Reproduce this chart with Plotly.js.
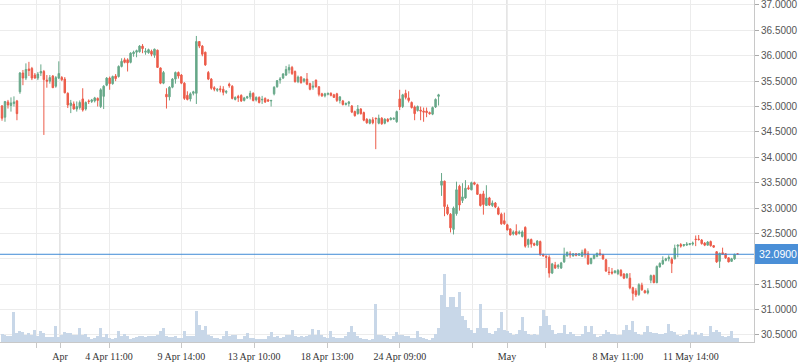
<!DOCTYPE html>
<html>
<head>
<meta charset="utf-8">
<script src="https://cdn.plot.ly/plotly-3.0.1.min.js"></script>
<style>html,body{margin:0;padding:0;background:#fff}#chart{width:798px;height:363px}</style>
</head>
<body>
<div id="chart"></div>
<script>
const open = [
35.01,34.79,35.09,35.02,35.06,35.11,35.29,35.66,35.56,35.74,
35.75,35.62,35.56,35.66,35.69,35.52,35.50,35.60,35.40,35.56,
35.57,35.54,35.26,35.02,35.05,34.95,34.98,35.15,34.95,35.11,
35.10,35.11,35.16,35.00,35.20,35.42,35.56,35.45,35.60,35.59,
35.79,35.92,35.92,35.87,36.04,36.07,36.08,36.19,36.07,36.06,
36.09,36.01,36.11,35.76,35.46,35.24,35.19,35.38,35.54,35.67,
35.62,35.46,35.22,35.15,35.26,35.26,36.28,36.19,36.07,35.67,
35.54,35.37,35.32,35.35,35.34,35.28,35.44,35.40,35.14,35.20,
35.22,35.12,35.17,35.19,35.26,35.13,35.18,35.13,35.16,35.13,
35.11,35.25,35.39,35.52,35.56,35.62,35.72,35.77,35.69,35.49,
35.58,35.50,35.54,35.45,35.38,35.52,35.39,35.25,35.21,35.24,
35.26,35.23,35.25,35.12,35.11,35.04,35.06,35.01,34.90,34.86,
34.95,34.88,34.75,34.67,34.74,34.77,34.67,34.77,34.67,34.75,
34.74,34.75,34.70,35.15,35.00,35.26,35.17,35.08,34.99,34.92,
34.93,34.91,34.91,34.88,34.85,34.99,35.20,
33.45,33.53,33.02,32.88,32.58,32.89,33.43,33.15,33.20,33.40,
33.36,33.50,33.46,33.27,33.28,33.05,33.20,33.05,33.10,33.00,
32.88,32.75,32.67,32.59,32.49,32.54,32.50,32.44,32.62,32.28,
32.38,32.30,32.27,32.34,32.09,32.05,32.03,31.72,31.88,31.84,
31.82,31.94,32.06,32.10,32.06,32.10,32.07,32.05,32.18,32.10,
31.91,32.01,32.05,32.11,32.08,31.98,31.74,31.74,31.73,31.71,
31.77,31.70,31.63,31.62,31.43,31.37,31.30,31.48,31.37,31.33,
31.58,31.67,31.53,31.84,31.90,31.97,32.00,31.99,32.00,32.25,
32.28,32.26,32.27,32.28,32.29,32.39,32.39,32.37,32.31,32.27,
32.34,32.26,32.14,31.95,32.12,32.10,32.02,31.95,32.00,32.10];

const high = [
35.03,35.10,35.13,35.18,35.20,35.13,35.68,35.72,35.85,35.88,
35.78,35.66,35.68,35.83,35.72,35.62,35.62,35.62,35.60,35.89,
35.60,35.58,35.28,35.13,35.10,35.10,35.12,35.36,35.10,35.14,
35.15,35.19,35.18,35.36,35.42,35.58,35.59,35.61,35.64,35.81,
35.95,35.96,35.95,36.07,36.10,36.12,36.21,36.23,36.15,36.14,
36.12,36.14,36.12,35.77,35.70,35.36,35.40,35.56,35.69,35.69,
35.64,35.48,35.30,35.28,35.31,36.39,36.29,36.21,36.08,35.70,
35.56,35.40,35.36,35.41,35.40,35.32,35.47,35.42,35.20,35.23,
35.24,35.19,35.21,35.31,35.28,35.20,35.20,35.21,35.18,35.15,
35.13,35.40,35.52,35.58,35.66,35.80,35.83,35.80,35.71,35.61,
35.60,35.56,35.66,35.47,35.50,35.53,35.40,35.27,35.27,35.27,
35.28,35.25,35.27,35.20,35.13,35.08,35.11,35.03,34.92,35.03,
34.97,34.90,34.77,34.76,34.79,34.78,34.84,34.79,34.77,34.77,
34.79,34.78,34.92,35.33,35.25,35.33,35.30,35.10,35.02,35.02,
35.00,34.98,34.98,34.90,35.00,35.16,35.25,
33.69,33.54,33.07,32.90,33.03,33.52,33.46,33.49,33.55,33.45,
33.52,33.52,33.48,33.28,33.34,33.45,33.22,33.15,33.12,33.03,
32.91,32.91,32.69,32.60,32.56,32.68,32.56,32.56,32.64,32.40,
32.40,32.32,32.37,32.36,32.10,32.07,32.07,31.92,31.94,31.90,
31.94,32.22,32.14,32.15,32.11,32.11,32.11,32.18,32.21,32.15,
32.02,32.08,32.12,32.19,32.10,32.00,31.84,31.82,31.78,31.80,
31.80,31.72,31.72,31.72,31.45,31.42,31.52,31.53,31.39,31.42,
31.69,31.69,31.87,31.93,32.05,32.02,32.07,32.03,32.28,32.28,
32.31,32.29,32.33,32.31,32.34,32.46,32.47,32.39,32.33,32.35,
32.36,32.27,32.15,32.12,32.22,32.11,32.03,32.02,32.10,32.11];

const low = [
34.72,34.70,34.96,34.90,35.00,34.73,35.25,35.42,35.52,35.60,
35.52,35.55,35.52,35.60,34.44,35.37,35.45,35.37,35.37,35.54,
35.50,35.26,34.97,34.87,34.94,34.90,34.94,34.90,34.92,35.05,
35.07,35.08,35.00,34.97,34.95,35.40,35.33,35.43,35.50,35.57,
35.77,35.85,35.69,35.85,35.98,35.97,36.06,36.05,36.02,36.04,
35.99,35.96,35.76,35.44,35.44,34.96,35.12,35.36,35.45,35.55,
35.44,35.13,35.12,35.10,35.22,35.05,36.15,35.99,35.80,35.52,
35.33,35.30,35.29,35.28,35.22,35.25,35.37,35.14,35.12,35.09,
35.09,35.10,35.15,35.14,35.10,35.10,35.06,35.05,35.07,35.09,
35.00,35.22,35.37,35.45,35.54,35.60,35.65,35.62,35.47,35.46,
35.45,35.47,35.42,35.32,35.33,35.37,35.20,35.19,35.18,35.22,
35.20,35.17,35.09,35.06,35.02,35.02,35.00,34.87,34.80,34.84,
34.84,34.71,34.66,34.65,34.65,34.16,34.65,34.64,34.65,34.69,
34.73,34.74,34.68,34.93,34.97,35.14,35.08,34.96,34.73,34.90,
34.73,34.70,34.79,34.84,34.83,34.97,35.02,
33.24,32.84,32.86,32.52,32.48,32.85,32.95,33.10,33.18,33.36,
33.35,33.45,33.26,33.03,32.87,33.04,33.04,33.02,33.00,32.86,
32.67,32.67,32.56,32.46,32.46,32.46,32.48,32.42,32.22,32.22,
32.22,32.25,32.25,32.06,32.04,31.82,31.63,31.70,31.80,31.80,
31.80,31.92,32.04,32.02,32.04,32.05,32.06,32.04,32.02,31.88,
31.89,31.99,32.03,32.06,31.98,31.74,31.68,31.69,31.71,31.68,
31.65,31.60,31.61,31.40,31.18,31.25,31.27,31.37,31.32,31.30,
31.52,31.52,31.52,31.83,31.88,31.95,31.95,31.72,31.99,32.03,
32.22,32.24,32.26,32.27,32.26,32.25,32.36,32.28,32.25,32.26,
32.24,32.22,31.92,31.82,32.08,32.00,31.93,31.94,31.98,32.08];

const close = [
34.77,35.10,35.03,35.07,35.09,34.86,35.66,35.56,35.73,35.71,
35.56,35.56,35.64,35.69,35.53,35.50,35.57,35.37,35.57,35.65,
35.53,35.27,35.03,35.07,34.95,35.00,35.08,34.93,35.08,35.10,
35.13,35.17,35.12,35.33,35.40,35.56,35.45,35.59,35.55,35.79,
35.89,35.87,35.86,36.05,36.07,36.10,36.19,36.14,36.09,36.12,
36.03,36.13,35.77,35.46,35.67,35.19,35.38,35.54,35.67,35.60,
35.46,35.16,35.14,35.25,35.29,36.28,36.19,36.03,35.82,35.54,
35.36,35.34,35.34,35.33,35.28,35.30,35.41,35.16,35.18,35.17,
35.11,35.17,35.19,35.26,35.12,35.18,35.08,35.14,35.09,35.11,
35.12,35.38,35.51,35.54,35.64,35.73,35.77,35.65,35.49,35.58,
35.47,35.54,35.44,35.34,35.40,35.39,35.24,35.21,35.25,35.26,
35.22,35.18,35.12,35.19,35.04,35.06,35.09,34.89,34.82,34.95,
34.86,34.73,34.68,34.74,34.68,34.76,34.77,34.66,34.75,34.71,
34.77,34.77,34.90,34.99,35.23,35.18,35.12,34.98,34.86,35.00,
34.91,34.89,34.88,34.86,34.98,35.14,35.23,
33.53,33.03,32.89,32.61,33.00,33.36,33.06,33.22,33.39,33.38,
33.50,33.47,33.27,33.05,33.07,33.20,33.06,33.10,33.02,32.88,
32.69,32.69,32.57,32.47,32.53,32.48,32.53,32.53,32.25,32.38,
32.29,32.27,32.35,32.08,32.06,32.03,31.72,31.90,31.82,31.87,
31.92,32.07,32.13,32.08,32.10,32.07,32.10,32.13,32.08,31.90,
32.01,32.07,32.11,32.08,32.00,31.76,31.73,31.72,31.76,31.77,
31.67,31.62,31.70,31.43,31.32,31.29,31.49,31.39,31.33,31.37,
31.67,31.53,31.85,31.91,31.97,32.00,32.03,31.91,32.21,32.27,
32.25,32.28,32.29,32.30,32.31,32.38,32.38,32.30,32.27,32.33,
32.26,32.23,31.94,32.11,32.09,32.02,31.94,32.00,32.09,32.09];

const volume = [
83,73,63,63,297,90,107,100,73,90,
67,123,63,107,90,50,50,50,157,50,
67,100,90,90,73,73,140,73,83,50,
30,40,57,140,50,83,40,33,40,113,
57,83,63,30,40,47,63,63,50,57,
57,57,73,107,140,57,50,47,57,40,
40,107,57,57,57,313,173,123,163,73,
57,40,40,30,63,107,57,73,73,33,
33,63,90,40,40,30,30,30,30,57,
103,50,57,40,47,73,73,123,57,50,
57,50,63,73,133,67,123,73,50,40,
107,47,40,40,40,57,97,163,100,57,
40,33,33,23,33,383,67,67,57,40,
33,57,100,73,73,57,57,40,40,107,
50,40,30,23,40,83,140,473,683,347,
450,450,347,497,257,223,140,117,90,140,
383,140,140,90,83,107,140,297,117,107,
90,73,83,117,247,107,83,73,83,73,
163,323,257,173,123,83,90,90,173,83,
97,83,57,57,83,163,97,157,83,50,
57,83,117,97,83,83,73,73,123,173,
123,207,97,83,73,97,163,97,90,90,
83,83,90,183,107,97,73,63,73,83,
117,73,97,73,90,63,63,157,97,123,
97,57,50,57,107,40,40];

const tickIdx    = [11.4, 19.4, 35.8, 60.0, 84.3, 108.7, 133.1, 157.5, 168.9, 181.8, 206.0, 230.4];
const tickLabels = ['', 'Apr', '4 Apr 11:00', '9 Apr 14:00', '13 Apr 10:00', '18 Apr 13:00', '24 Apr 09:00', '', 'May', '', '8 May 11:00', '11 May 14:00'];
const monthIdx   = [19.4, 168.9];
const priceTicks = [30.5,31.0,31.5,32.0,32.5,33.0,33.5,34.0,34.5,35.0,35.5,36.0,36.5,37.0];
const lastPrice  = 32.09;

const x = open.map((_, i) => i);
// the 32.0000 label sits under the last-price box, as in the reference
const priceTickText = priceTicks.map(v => Math.abs(v - lastPrice) < 0.15 ? '' : v.toFixed(4));

const traces = [
  {
    type: 'bar', x: x, y: volume, yaxis: 'y2',
    marker: {color: '#c8d7e8', line: {width: 0}},
    width: 1, hoverinfo: 'skip', showlegend: false
  },
  {
    type: 'candlestick', x: x, open: open, high: high, low: low, close: close,
    increasing: {line: {color: '#67a889', width: 1}, fillcolor: '#67a889'},
    decreasing: {line: {color: '#ec5c4a', width: 1}, fillcolor: '#ec5c4a'},
    whiskerwidth: 0, hoverinfo: 'skip', showlegend: false
  }
];

const shapes = monthIdx.map(m => ({
  type: 'line', xref: 'x', yref: 'paper', x0: m, x1: m, y0: 0, y1: 1,
  line: {color: '#c9c9c9', width: 1}, layer: 'below'
}));
shapes.push({
  type: 'line', xref: 'paper', yref: 'y', x0: 0, x1: 1, y0: lastPrice, y1: lastPrice,
  line: {color: '#3f8ad6', width: 1}, layer: 'above'
});

const layout = {
  width: 798, height: 363,
  margin: {l: 0, r: 44, t: 0, b: 21, pad: 0},
  paper_bgcolor: '#ffffff', plot_bgcolor: '#ffffff',
  showlegend: false,
  bargap: 0,
  xaxis: {
    type: 'linear', range: [-0.67, 251.5],
    tickmode: 'array', tickvals: tickIdx, ticktext: tickLabels,
    showgrid: true, gridcolor: '#ececec', gridwidth: 1,
    zeroline: false, showline: true, linecolor: '#c8c8c8', linewidth: 1,
    ticks: 'outside', ticklen: 5, tickcolor: '#c8c8c8',
    tickfont: {family: 'Liberation Serif, serif', size: 10, color: '#333'},
    rangeslider: {visible: false}, fixedrange: true, automargin: false
  },
  yaxis: {
    side: 'right', range: [30.362, 37.098],
    tickmode: 'array', tickvals: priceTicks, ticktext: priceTickText,
    ticklabeloverflow: 'allow',
    showgrid: true, gridcolor: '#ececec', gridwidth: 1,
    zeroline: false, showline: true, linecolor: '#c8c8c8', linewidth: 1,
    ticks: 'outside', ticklen: 4, tickcolor: '#aaaaaa',
    tickfont: {family: 'Liberation Sans, sans-serif', size: 10, color: '#555'},
    fixedrange: true, automargin: false
  },
  yaxis2: {
    overlaying: 'y', range: [0, 3420], visible: false, showgrid: false, fixedrange: true
  },
  shapes: shapes,
  annotations: [{
    xref: 'paper', yref: 'y', x: 1, y: lastPrice, xanchor: 'left', yanchor: 'middle',
    xshift: 1, text: lastPrice.toFixed(4), showarrow: false,
    bgcolor: '#4a8fd7', bordercolor: '#4a8fd7', borderpad: 3,
    font: {family: 'Liberation Sans, sans-serif', size: 10.5, color: '#ffffff'}
  }]
};

Plotly.newPlot('chart', traces, layout, {displayModeBar: false, staticPlot: true});
</script>
</body>
</html>
